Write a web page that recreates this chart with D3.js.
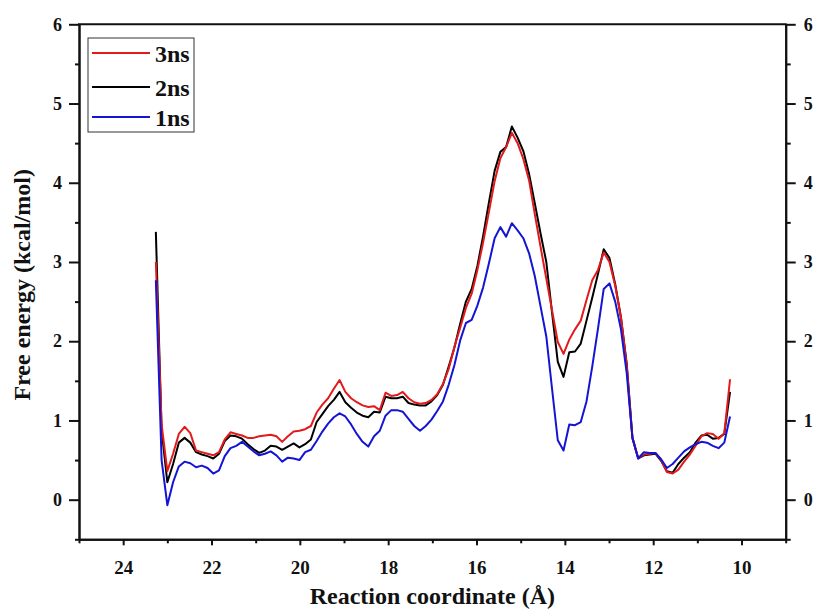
<!DOCTYPE html>
<html>
<head>
<meta charset="utf-8">
<script src="https://cdn.jsdelivr.net/npm/d3@7"></script>
<style>
  body { margin: 0; background: #fff; }
  svg text { font-family: "Liberation Serif", "Times New Roman", serif; font-weight: bold; fill: #111; }
</style>
</head>
<body>
<script>
var width = 814;
var height = 610;

// reaction coordinate (Å), one sample every 0.13
var coord = [
  23.26, 23.13, 23.00, 22.87, 22.74, 22.61, 22.48, 22.35, 22.22, 22.09,
  21.96, 21.83, 21.70, 21.57, 21.44, 21.31, 21.18, 21.05, 20.92, 20.79,
  20.66, 20.53, 20.40, 20.27, 20.14, 20.01, 19.88, 19.75, 19.62, 19.49,
  19.36, 19.23, 19.10, 18.97, 18.84, 18.71, 18.58, 18.45, 18.32, 18.19,
  18.06, 17.93, 17.80, 17.67, 17.54, 17.41, 17.28, 17.15, 17.02, 16.89,
  16.76, 16.63, 16.50, 16.37, 16.24, 16.11, 15.98, 15.85, 15.72, 15.59,
  15.46, 15.33, 15.20, 15.07, 14.94, 14.81, 14.68, 14.55, 14.42, 14.29,
  14.16, 14.03, 13.90, 13.77, 13.64, 13.51, 13.38, 13.25, 13.12, 12.99,
  12.86, 12.73, 12.60, 12.47, 12.34, 12.21, 12.08, 11.95, 11.82, 11.69,
  11.56, 11.43, 11.30, 11.17, 11.04, 10.91, 10.78, 10.65, 10.52, 10.39,
  10.26
];

var ns3 = [
  3.00, 0.95, 0.36, 0.58, 0.83, 0.92, 0.84, 0.62, 0.60, 0.58,
  0.56, 0.60, 0.76, 0.85, 0.83, 0.81, 0.78, 0.78, 0.80, 0.81,
  0.82, 0.80, 0.73, 0.80, 0.86, 0.87, 0.89, 0.93, 1.10, 1.20,
  1.28, 1.40, 1.51, 1.36, 1.28, 1.23, 1.19, 1.17, 1.18, 1.13,
  1.35, 1.31, 1.32, 1.36, 1.28, 1.23, 1.21, 1.22, 1.26, 1.33,
  1.46, 1.65, 1.93, 2.17, 2.42, 2.60, 2.90, 3.25, 3.63, 4.02,
  4.31, 4.45, 4.63, 4.50, 4.30, 4.03, 3.60, 3.19, 2.79, 2.39,
  1.99, 1.84, 2.02, 2.15, 2.26, 2.52, 2.77, 2.90, 3.12, 3.00,
  2.70, 2.30, 1.70, 0.78, 0.53, 0.57, 0.58, 0.59, 0.50, 0.35,
  0.33, 0.38, 0.48, 0.57, 0.68, 0.80, 0.84, 0.83, 0.77, 0.84,
  1.52
];

var ns2 = [
  3.38, 0.88, 0.22, 0.45, 0.72, 0.78, 0.72, 0.60, 0.57, 0.55,
  0.52, 0.58, 0.74, 0.81, 0.80, 0.77, 0.70, 0.64, 0.59, 0.62,
  0.68, 0.67, 0.63, 0.67, 0.71, 0.66, 0.70, 0.76, 0.98, 1.08,
  1.18, 1.26, 1.36, 1.23, 1.16, 1.10, 1.06, 1.04, 1.11, 1.10,
  1.30, 1.28, 1.28, 1.30, 1.22, 1.20, 1.19, 1.19, 1.24, 1.32,
  1.45, 1.68, 1.92, 2.22, 2.50, 2.66, 2.95, 3.33, 3.75, 4.15,
  4.39, 4.45, 4.71, 4.57, 4.40, 4.11, 3.74, 3.36, 3.00, 2.36,
  1.74, 1.55, 1.86, 1.87, 1.97, 2.26, 2.55, 2.85, 3.16, 3.05,
  2.72, 2.30, 1.72, 0.78, 0.52, 0.56, 0.57, 0.58, 0.49, 0.36,
  0.34, 0.45, 0.53, 0.60, 0.72, 0.81, 0.82, 0.77, 0.78, 0.83,
  1.36
];

var ns1 = [
  2.77, 0.50, -0.07, 0.22, 0.42, 0.48, 0.46, 0.41, 0.43, 0.40,
  0.33, 0.37, 0.55, 0.65, 0.68, 0.73, 0.67, 0.61, 0.56, 0.58,
  0.61, 0.56, 0.48, 0.53, 0.52, 0.50, 0.60, 0.63, 0.74, 0.86,
  0.96, 1.04, 1.09, 1.05, 0.95, 0.83, 0.73, 0.67, 0.80, 0.87,
  1.06, 1.13, 1.13, 1.11, 1.02, 0.93, 0.87, 0.93, 1.01, 1.12,
  1.24, 1.45, 1.70, 2.01, 2.23, 2.27, 2.45, 2.68, 2.98, 3.30,
  3.44, 3.32, 3.49, 3.40, 3.30, 3.11, 2.82, 2.44, 2.06, 1.40,
  0.75, 0.62, 0.95, 0.94, 0.98, 1.24, 1.68, 2.16, 2.66, 2.73,
  2.50, 2.15, 1.60, 0.78, 0.52, 0.60, 0.59, 0.59, 0.51, 0.40,
  0.45, 0.53, 0.61, 0.66, 0.70, 0.73, 0.72, 0.68, 0.65, 0.72,
  1.05
];

var seriesNames = ['3ns', '2ns', '1ns'];
var seriesColors = ['#e31a1c', '#000000', '#1414d4'];
var seriesValues = [ns3, ns2, ns1];
var drawOrder = [1, 0, 2];   // black under red, blue on top

var xMajor = [24, 22, 20, 18, 16, 14, 12, 10];
var xMinor = [25, 23, 21, 19, 17, 15, 13, 11, 9];
var yMajor = [0, 1, 2, 3, 4, 5, 6];
var yMinor = [-0.5, 0.5, 1.5, 2.5, 3.5, 4.5, 5.5];

var plotL = 79, plotR = 785.7, plotT = 24.3, plotB = 539.3;

var svg = d3.select('body').append('svg')
  .attr('width', width)
  .attr('height', height);

var x = d3.scaleLinear().domain([25, 9]).range([plotL, plotR]);
var y = d3.scaleLinear().domain([-0.5, 6]).range([plotB, plotT]);

var fmt = d3.format('d');

// minor ticks first (no labels)
svg.append('g')
  .attr('transform', 'translate(0,' + plotB + ')')
  .call(d3.axisBottom(x).tickValues(xMinor).tickSize(4).tickSizeOuter(0).tickFormat(''));
svg.append('g')
  .attr('transform', 'translate(' + plotL + ',0)')
  .call(d3.axisLeft(y).tickValues(yMinor).tickSize(4).tickSizeOuter(0).tickFormat(''));
svg.append('g')
  .attr('transform', 'translate(' + plotR + ',0)')
  .call(d3.axisRight(y).tickValues(yMinor).tickSize(5).tickSizeOuter(0).tickFormat(''));

var xAxis = svg.append('g')
  .attr('transform', 'translate(0,' + plotB + ')')
  .call(d3.axisBottom(x).tickValues(xMajor).tickSize(6).tickSizeOuter(0).tickFormat(fmt));
xAxis.selectAll('text').attr('y', 21).attr('dy', '0.71em').style('font-size', '19px');

var yAxis = svg.append('g')
  .attr('transform', 'translate(' + plotL + ',0)')
  .call(d3.axisLeft(y).tickValues(yMajor).tickSize(10).tickPadding(7).tickSizeOuter(0).tickFormat(fmt));
yAxis.selectAll('text').style('font-size', '18px');

var yAxisR = svg.append('g')
  .attr('transform', 'translate(' + plotR + ',0)')
  .call(d3.axisRight(y).tickValues(yMajor).tickSize(10).tickPadding(8).tickSizeOuter(0).tickFormat(fmt));
yAxisR.selectAll('text').style('font-size', '18px');

svg.selectAll('.domain, .tick line')
  .attr('stroke', '#111')
  .attr('stroke-width', 2);

// top border, no ticks
svg.append('line')
  .attr('x1', plotL - 1).attr('x2', plotR + 1)
  .attr('y1', plotT).attr('y2', plotT)
  .attr('stroke', '#111')
  .attr('stroke-width', 2);

var line = d3.line()
  .x(function(d) { return x(d[0]); })
  .y(function(d) { return y(d[1]); });

drawOrder.forEach(function(k) {
  var pts = coord.map(function(c, i) { return [c, seriesValues[k][i]]; });
  svg.append('path')
    .datum(pts)
    .attr('d', line)
    .attr('fill', 'none')
    .attr('stroke', seriesColors[k])
    .attr('stroke-width', 2)
    .attr('stroke-linejoin', 'round');
});

// axis titles
svg.append('text')
  .attr('x', (plotL + plotR) / 2)
  .attr('y', 604)
  .attr('text-anchor', 'middle')
  .style('font-size', '24px')
  .text('Reaction coordinate (Å)');

svg.append('text')
  .attr('transform', 'translate(30,' + ((plotT + plotB) / 2 + 3) + ') rotate(-90)')
  .attr('text-anchor', 'middle')
  .style('font-size', '24px')
  .text('Free energy (kcal/mol)');

// legend
var legend = svg.append('g').attr('transform', 'translate(88,38)');
legend.append('rect')
  .attr('width', 106)
  .attr('height', 94)
  .attr('fill', '#fff')
  .attr('stroke', '#333')
  .attr('stroke-width', 1);

var legendY = [15, 49, 79];
seriesNames.forEach(function(name, k) {
  legend.append('line')
    .attr('x1', 4).attr('x2', 62)
    .attr('y1', legendY[k]).attr('y2', legendY[k])
    .attr('stroke', seriesColors[k])
    .attr('stroke-width', 2);
  legend.append('text')
    .attr('x', 67)
    .attr('y', legendY[k] + 9)
    .style('font-size', '24px')
    .text(name);
});
</script>
</body>
</html>
